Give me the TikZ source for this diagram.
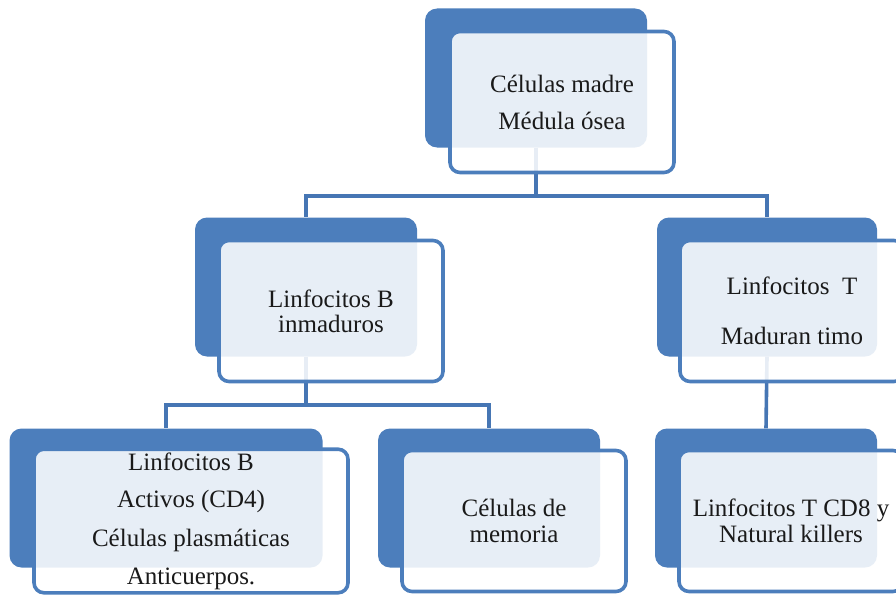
\documentclass[tikz,border=0pt]{standalone}
\usepackage{fontspec}
\setmainfont{Liberation Serif}
\usepackage{tikz}
\usetikzlibrary{positioning}
\definecolor{boxblue}{HTML}{4C7EBC}
\definecolor{linkblue}{HTML}{4676B4}
\definecolor{ink}{HTML}{1A1A1A}
\tikzstyle{backbox}=[rectangle,rounded corners=12pt,fill=boxblue,inner sep=0pt,
                minimum width=222pt,minimum height=139pt]
\tikzstyle{frontbox}=[rectangle,rounded corners=10pt,draw=boxblue,line width=3.6pt,
                fill=white,fill opacity=0.87,text opacity=1,text=ink,align=center,
                minimum width=224pt,minimum height=141pt,
                font=\fontsize{25}{26}\selectfont]
\tikzstyle{link}=[draw=linkblue,line width=3.6pt]

\begin{document}
\begin{tikzpicture}[x=1pt,y=-1pt]
\useasboundingbox (0,0) rectangle (896,594);
\clip (0,0) rectangle (896,594);
% dark boxes behind
\node[backbox] (topB) at (536,78) {};
\node[backbox] (mlB) at (306,287) {};
\node[backbox,minimum width=220pt] (mrB) at (767,287) {};
\node[backbox,minimum width=313pt] (blB) at (166,498) {};
\node[backbox] (bmB) at (489,498) {};
\node[backbox] (brB) at (766,498) {};
% connectors
\coordinate (barA) at (536,196);
\coordinate (barB) at (306,405);
\draw[link] (topB.south) -- (barA) -| (mlB.north);
\draw[link] (barA) -| (mrB.north);
\draw[link] (mlB.south) -- (barB) -| (blB.north);
\draw[link] (barB) -| (bmB.north);
\draw[link] (mrB.south) -- (brB.north);
% front boxes
\node[frontbox] (top) at ([shift={(26,24)}]topB.center)
  {Células madre\\[11pt]Médula ósea};
\node[frontbox] (ml) at ([shift={(25,24)}]mlB.center)
  {Linfocitos B\\[-1pt]inmaduros};
\node[frontbox] (mr) at ([shift={(25,24)}]mrB.center)
  {Linfocitos\ \ T\\[24pt]Maduran timo};
\node[frontbox,minimum width=314pt] (bl) at ([shift={(25,23)}]blB.center)
  {Linfocitos B\\[11pt]Activos (CD4)\\[13pt]Células plasmáticas\\[12pt]Anticuerpos.};
\node[frontbox] (bm) at ([shift={(25,23)}]bmB.center)
  {Células de\\memoria};
\node[frontbox] (br) at ([shift={(25,23)}]brB.center)
  {Linfocitos T CD8 y\\Natural killers};
\end{tikzpicture}
\end{document}
